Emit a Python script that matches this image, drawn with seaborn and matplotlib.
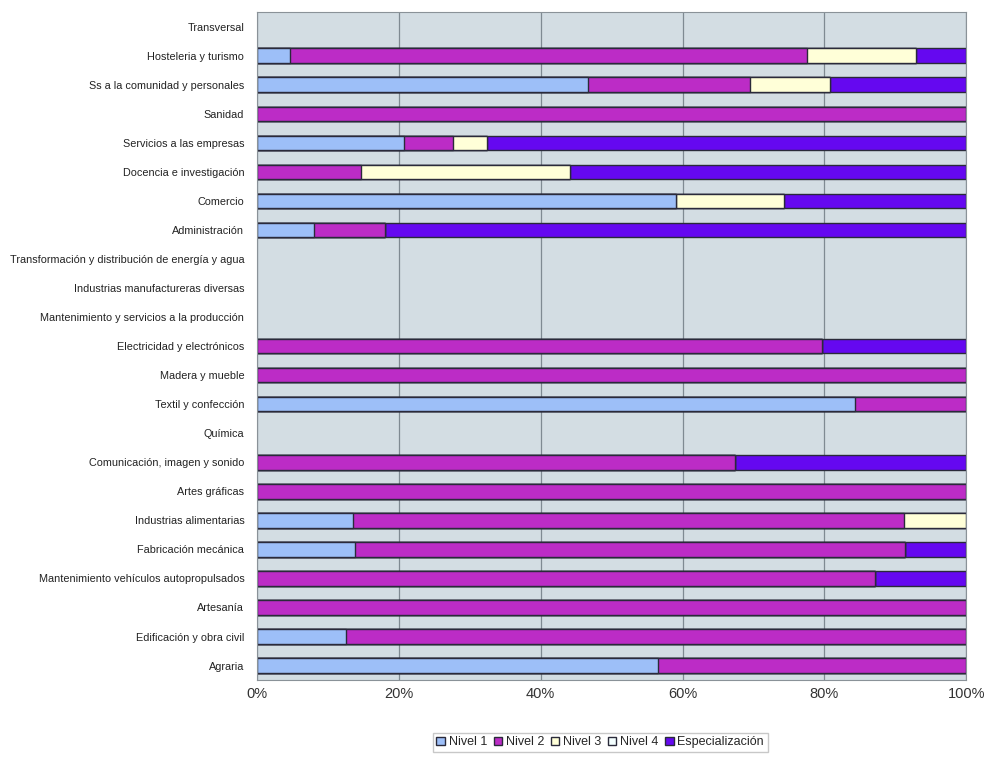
import matplotlib
matplotlib.use('Agg')
import matplotlib.pyplot as plt
import matplotlib.ticker as mticker
from matplotlib.patches import Patch
import numpy as np
import pandas as pd
import seaborn as sns

categories = [
    'Transversal', 'Hosteleria y turismo', 'Ss a la comunidad y personales',
    'Sanidad', 'Servicios a las empresas', 'Docencia e investigación',
    'Comercio', 'Administración',
    'Transformación y distribución de energía y agua',
    'Industrias manufactureras diversas',
    'Mantenimiento y servicios a la producción',
    'Electricidad y electrónicos', 'Madera y mueble', 'Textil y confección',
    'Química', 'Comunicación, imagen y sonido', 'Artes gráficas',
    'Industrias alimentarias', 'Fabricación mecánica',
    'Mantenimiento vehículos autopropulsados', 'Artesanía',
    'Edificación y obra civil', 'Agraria',
]

# percentages per level
nivel1 = [0, 4.7, 46.7, 0, 20.7, 0, 59.1, 8.1, 0, 0, 0, 0, 0, 84.3, 0, 0, 0, 13.5, 13.8, 0, 0, 12.5, 56.5]
nivel2 = [0, 72.8, 22.8, 100, 6.9, 14.7, 0, 10.0, 0, 0, 0, 79.7, 100, 15.7, 0, 67.4, 100, 77.7, 77.5, 87.2, 100, 87.5, 43.5]
nivel3 = [0, 15.4, 11.3, 0, 4.8, 29.4, 15.2, 0, 0, 0, 0, 0, 0, 0, 0, 0, 0, 8.8, 0, 0, 0, 0, 0]
nivel4 = [0] * 23
especializacion = [0, 7.1, 19.2, 0, 67.6, 55.9, 25.7, 81.9, 0, 0, 0, 20.3, 0, 0, 0, 32.6, 0, 0, 8.7, 12.8, 0, 0, 0]

series = ['Nivel 1', 'Nivel 2', 'Nivel 3', 'Nivel 4', 'Especialización']
colors = ['#9DBFF8', '#BC2CC6', '#FFFFD8', '#F4FFFF', '#6508F0']

df = pd.DataFrame({'cat': categories, 'Nivel 1': nivel1, 'Nivel 2': nivel2,
                   'Nivel 3': nivel3, 'Nivel 4': nivel4,
                   'Especialización': especializacion})
cum = df[series].cumsum(axis=1)

sns.set_style('white')
plt.rcParams['font.family'] = ['Liberation Sans', 'DejaVu Sans']

fig = plt.figure(figsize=(9.84, 7.59), dpi=100)
ax = fig.add_axes([0.261, 0.104, 0.721, 0.880])
ax.set_facecolor('#D3DDE3')

# stacked bars: draw the cumulative totals from the last level backwards
for s, c in reversed(list(zip(series, colors))):
    sns.barplot(x=cum[s], y=df['cat'], orient='h', color=c, ax=ax,
                width=0.5, edgecolor='#2A2A3A', linewidth=1.0, saturation=1)

# drop empty bars so no stray edge shows at 0
for p in list(ax.patches):
    if p.get_width() == 0:
        p.remove()

ax.set_xlim(0, 100)
ax.set_ylim(len(categories) - 0.5, -0.5)
ax.xaxis.set_major_locator(mticker.MultipleLocator(20))
ax.xaxis.set_major_formatter(mticker.FuncFormatter(lambda v, p: f'{v:.0f}%'))
ax.grid(axis='x', color='#7F8A92', linewidth=0.9)
ax.set_axisbelow(True)
ax.set_xlabel('')
ax.set_ylabel('')
for sp in ax.spines.values():
    sp.set_color('#8A9298')
    sp.set_linewidth(0.8)
ax.tick_params(axis='y', length=0, labelsize=7.8, pad=9, colors='#222222')
ax.tick_params(axis='x', length=0, labelsize=10.5, pad=5, colors='#333333')

handles = [Patch(facecolor=c, edgecolor='#2A2A3A', label=s) for s, c in zip(series, colors)]
fig.legend(handles=handles, loc='center', bbox_to_anchor=(0.61, 0.022), ncol=5,
           frameon=True, fancybox=False, edgecolor='#BBBBBB', fontsize=9,
           handlelength=0.7, handleheight=0.7, handletextpad=0.3,
           columnspacing=0.5, borderpad=0.3)

fig.savefig('out.png', dpi=100)
